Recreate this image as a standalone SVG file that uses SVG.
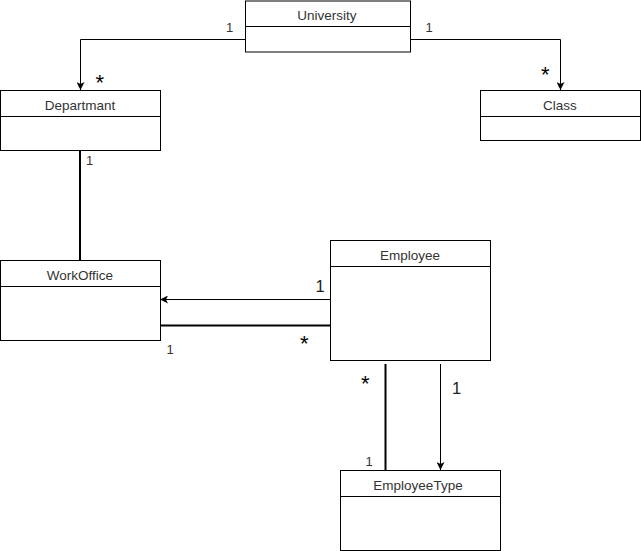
<svg xmlns="http://www.w3.org/2000/svg" width="641" height="551" viewBox="0 0 641 551">
<style>
.box{fill:#fff;stroke:#000;stroke-width:1}
.t{font-family:"Liberation Sans",Arial,sans-serif;font-size:13.5px;fill:#333;text-anchor:middle}
.l{font-family:"Liberation Sans",Arial,sans-serif;font-size:13px;fill:#333}
.b{font-family:"Liberation Sans",Arial,sans-serif;font-size:16.5px;fill:#222}
.s{font-family:"Liberation Sans",Arial,sans-serif;font-size:22px;fill:#000}
.c{fill:none;stroke:#000;stroke-width:1}
.k{fill:none;stroke:#000;stroke-width:2}
</style>
<defs>
<marker id="arr" viewBox="0 0 10 10" refX="10" refY="5" markerWidth="8" markerHeight="8" markerUnits="userSpaceOnUse" orient="auto">
<path d="M0,0 L10,5 L0,10 L2.5,5 z" fill="#000"/>
</marker>
</defs>
<rect width="641" height="551" fill="#fff"/>
<g id="connectors">
<path class="c" d="M245,39.5 H80.5 V90" marker-end="url(#arr)"/>
<path class="c" d="M410,39.5 H560.5 V90" marker-end="url(#arr)"/>
<path class="k" d="M80,150 V260"/>
<path class="c" d="M330,299.5 H160" marker-end="url(#arr)"/>
<path class="k" d="M160,325.5 H330"/>
<path class="k" d="M385.5,364 V470"/>
<path class="c" d="M440.5,364 V470" marker-end="url(#arr)"/>
<text class="l" x="226" y="32">1</text>
<text class="s" x="95.4" y="89.7">*</text>
<text class="l" x="425.5" y="32">1</text>
<text class="s" x="541" y="81.7">*</text>
<text class="l" x="86" y="165">1</text>
<text class="b" x="315.5" y="292">1</text>
<text class="s" x="300" y="351.4">*</text>
<text class="l" x="166.5" y="354">1</text>
<text class="s" x="361" y="390.7">*</text>
<text class="b" x="452" y="394">1</text>
<text class="l" x="365.5" y="466">1</text>
</g>
<g id="University">
<rect class="box" x="245.5" y="1" width="165" height="51"/>
<line class="c" x1="245.5" y1="26.5" x2="410.5" y2="26.5"/>
<text class="t" x="327" y="20">University</text>
</g>
<g id="Departmant">
<rect class="box" x="0.5" y="90.5" width="160" height="60"/>
<line class="c" x1="0.5" y1="116.5" x2="160.5" y2="116.5"/>
<text class="t" x="80" y="110">Departmant</text>
</g>
<g id="Class">
<rect class="box" x="480.5" y="90.5" width="160" height="50"/>
<line class="c" x1="480.5" y1="116.5" x2="640.5" y2="116.5"/>
<text class="t" x="560" y="110">Class</text>
</g>
<g id="WorkOffice">
<rect class="box" x="0.5" y="260.5" width="160" height="80"/>
<line class="c" x1="0.5" y1="286.5" x2="160.5" y2="286.5"/>
<text class="t" x="80" y="280">WorkOffice</text>
</g>
<g id="Employee">
<rect class="box" x="330.5" y="240.5" width="160" height="120"/>
<line class="c" x1="330.5" y1="266.5" x2="490.5" y2="266.5"/>
<text class="t" x="410" y="260">Employee</text>
</g>
<g id="EmployeeType">
<rect class="box" x="340.5" y="470.5" width="160" height="80"/>
<line class="c" x1="340.5" y1="496.5" x2="500.5" y2="496.5"/>
<text class="t" x="418" y="490">EmployeeType</text>
</g>
</svg>
